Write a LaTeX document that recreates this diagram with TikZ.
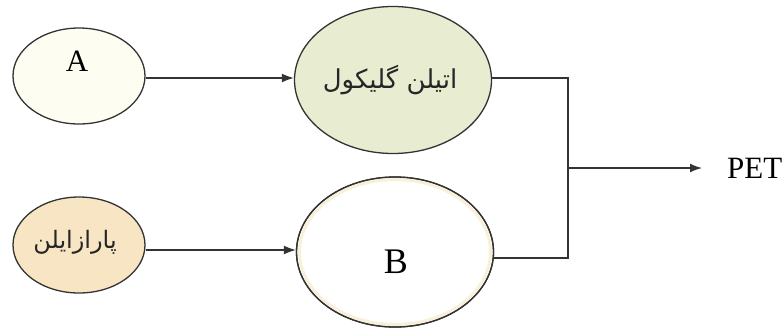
\documentclass[tikz,border=0pt]{standalone}
\usepackage{fontspec}
\setmainfont{Liberation Serif}
\newfontfamily\fa[Script=Arabic]{DejaVu Sans}
\TeXXeTstate=1
\usetikzlibrary{shapes.geometric,arrows.meta}
\definecolor{linec}{HTML}{333333}
\definecolor{fillA}{HTML}{FDFDF1}
\definecolor{fillEG}{HTML}{E8EDD2}
\definecolor{fillPX}{HTML}{F7E5C3}
\definecolor{glowB}{HTML}{F9F0DA}
\begin{document}
\begin{tikzpicture}[x=1pt,y=-1pt,
  blob/.style={ellipse,draw=linec,line width=1.3pt,inner sep=0pt},
  conn/.style={draw=linec,line width=1.4pt},
  arr/.style={conn,-{Latex[length=12pt,width=9pt]}},
  lat/.style={font=\fontsize{31}{34}\selectfont,text=black,inner sep=0pt},
  per/.style={font=\fa\fontsize{26}{30}\selectfont,text=black!85,inner sep=0pt}]
\useasboundingbox (0,0) rectangle (784,333);
\node[blob,fill=fillA,minimum width=132pt,minimum height=96pt] (A) at (79,76) {};
\node[blob,fill=fillEG,minimum width=197pt,minimum height=147pt] (EG) at (393,80) {};
\node[blob,fill=fillPX,minimum width=132pt,minimum height=96pt] (PX) at (79,245) {};
\node[blob,fill=white,minimum width=197pt,minimum height=150pt] (B) at (395,252) {};
\draw[glowB,line width=3pt] (B.center) ellipse [x radius=95.5pt,y radius=72.5pt];
\draw[linec,line width=1.3pt] (B.center) ellipse [x radius=98.5pt,y radius=75pt];
\node[lat] (tA) at (77,61) {A};
\node[lat,font=\fontsize{36}{40}\selectfont] (tB) at (396,262) {B};
\node[per] (tEG) at (390,80) {\beginR اتیلن گلیکول\endR};
\node[per,font=\fa\fontsize{24}{28}\selectfont] (tPX) at (75,242) {\beginR پارازایلن\endR};
\node[lat,anchor=west] (PET) at (727,168) {PET};
\coordinate (J) at (568,168);
\draw[arr] (A.east |- 0,78) -- (EG.west |- 0,78);
\draw[arr] (PX.east |- 0,250) -- (B.west |- 0,250);
\draw[conn] (EG.east |- 0,78) -| (J) |- (B.east |- 0,258);
\draw[arr] (J) -- ([xshift=-25pt]PET.west);
\end{tikzpicture}
\end{document}
